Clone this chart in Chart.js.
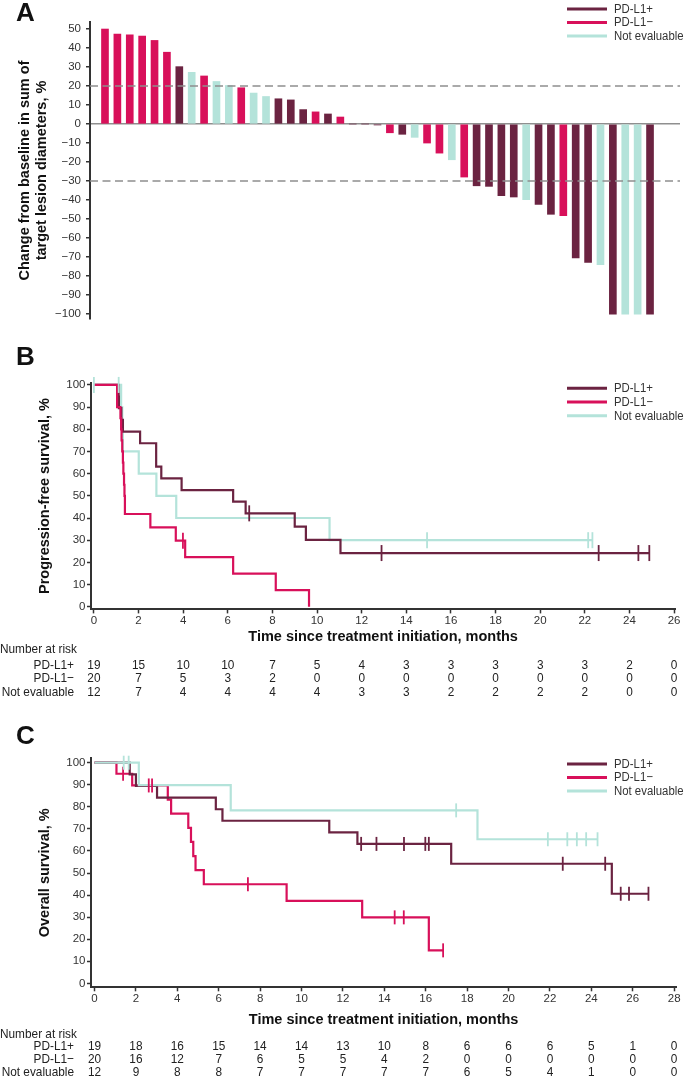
<!DOCTYPE html>
<html>
<head>
<meta charset="utf-8">
<title>Tumour response and survival by PD-L1 status</title>
<script src="https://cdn.jsdelivr.net/npm/chart.js@4.4.1/dist/chart.umd.min.js"></script>
<style>
  html, body { margin:0; padding:0; background:#ffffff; }
  body { width:685px; height:1077px; position:relative; overflow:hidden; }
  canvas { position:absolute; left:0; display:block; }
</style>
</head>
<body>
<canvas id="panelA" width="685" height="330" style="top:0px"></canvas>
<canvas id="panelB" width="685" height="370" style="top:335px"></canvas>
<canvas id="panelC" width="685" height="372" style="top:705px"></canvas>
<script>
// ================= DATA =================
const groupKeys   = ['pos', 'neg', 'ne'];
const groupLabels = ['PD-L1+', 'PD-L1\u2212', 'Not evaluable'];
const groupColors = ['#6b2341', '#d8105a', '#b4e3da'];

// Panel A: best change from baseline (%) per patient, ordered as plotted
const waterfallChange = [50, 47.3, 47, 46.3, 44, 37.8, 30.2, 27.2, 25.3, 22.4,
  20.3, 19.1, 16.3, 14.5, 13.3, 12.7, 7.6, 6.4, 5.3, 3.7,
  0, 0, -0.5, -4.6, -5.4, -7, -10, -15.3, -18.8, -27.9,
  -32.5, -32.8, -37.7, -38.4, -39.8, -42.3, -47.5, -48.2, -70.4, -72.8,
  -74, -100, -100, -100, -100];
const waterfallGroup = ['neg','neg','neg','neg','neg','neg','pos','ne','neg','ne',
  'ne','neg','ne','ne','pos','pos','pos','neg','pos','neg',
  'pos','pos','pos','neg','pos','ne','neg','neg','ne','neg',
  'pos','pos','pos','pos','ne','pos','pos','neg','pos','pos',
  'ne','pos','ne','ne','pos'];
const waterfallThresholds = [20, -30];
const waterfallTicks = [50, 40, 30, 20, 10, 0, -10, -20, -30, -40, -50, -60, -70, -80, -90, -100];

// Panel B: progression-free survival (months, %)
const pfsMonthTicks = [0, 2, 4, 6, 8, 10, 12, 14, 16, 18, 20, 22, 24, 26];
const pfsTimePos   = [0, 1.11, 1.12, 1.23, 1.30, 2.07, 2.79, 3.02, 3.93, 6.24, 6.80, 9.00, 9.50, 11.05, 24.89];
const pfsSurvPos   = [100, 94.7, 89.5, 84.2, 78.9, 73.7, 63.2, 57.9, 52.6, 47.4, 42.1, 36.1, 30.1, 24.2, 24.2];
const pfsCensorPos = [6.96, 12.89, 22.62, 24.40, 24.89];
const pfsTimeNeg   = [0, 1.04, 1.19, 1.22, 1.24, 1.27, 1.30, 1.32, 1.35, 1.37, 1.39, 2.53, 3.67, 4.09, 6.24, 8.15, 9.64];
const pfsSurvNeg   = [100, 90, 85, 80, 75, 70, 65, 60, 55, 50, 41.8, 35.8, 29.8, 22.4, 14.9, 7.5, 0];
const pfsCensorNeg = [3.99];
const pfsTimeNE    = [0, 1.22, 1.27, 1.30, 2.01, 2.80, 3.69, 10.56, 22.34];
const pfsSurvNE    = [100, 90, 80, 70, 60, 50, 40, 30, 30];
const pfsCensorNE  = [0, 1.11, 14.93, 22.15, 22.34];
const pfsRiskPos = [19, 15, 10, 10, 7, 5, 4, 3, 3, 3, 3, 3, 2, 0];
const pfsRiskNeg = [20, 7, 5, 3, 2, 0, 0, 0, 0, 0, 0, 0, 0, 0];
const pfsRiskNE  = [12, 7, 4, 4, 4, 4, 3, 3, 2, 2, 2, 2, 0, 0];

// Panel C: overall survival (months, %)
const osMonthTicks = [0, 2, 4, 6, 8, 10, 12, 14, 16, 18, 20, 22, 24, 26, 28];
const osTimePos   = [0, 1.70, 2.00, 3.02, 5.86, 6.18, 11.34, 12.70, 17.23, 24.99, 26.76];
const osSurvPos   = [100, 94.7, 89.5, 84.2, 78.9, 73.7, 68.4, 63.2, 54.2, 40.6, 40.6];
const osCensorPos = [12.88, 13.62, 14.95, 15.98, 16.15, 22.62, 24.67, 25.42, 25.82, 26.76];
const osTimeNeg   = [0, 1.06, 1.82, 3.54, 3.70, 4.53, 4.66, 4.77, 4.88, 5.28, 9.28, 12.93, 16.15, 16.84];
const osSurvNeg   = [100, 95, 89.7, 83.3, 76.9, 70.5, 64.1, 57.7, 51.3, 44.9, 37.4, 29.9, 14.95, 14.95];
const osCensorNeg = [1.38, 2.62, 2.78, 7.41, 14.50, 14.94, 16.84];
const osTimeNE    = [0, 2.14, 6.58, 18.50, 24.30];
const osSurvNE    = [100, 89.8, 78.4, 65.3, 65.3];
const osCensorNE  = [1.41, 1.65, 17.47, 21.90, 22.84, 23.30, 23.75, 24.30];
const osRiskPos = [19, 18, 16, 15, 14, 14, 13, 10, 8, 6, 6, 6, 5, 1, 0];
const osRiskNeg = [20, 16, 12, 7, 6, 5, 5, 4, 2, 0, 0, 0, 0, 0, 0];
const osRiskNE  = [12, 9, 8, 8, 7, 7, 7, 7, 7, 6, 5, 4, 1, 0, 0];

// ================= STYLE =================
const SANS   = '"Liberation Sans", Arial, Helvetica, sans-serif';
const NARROW = '"Liberation Sans Narrow", "Liberation Sans", Arial, sans-serif';
const AXIS_COLOR = '#333333';
const REF_COLOR  = '#8f8f8f';
const colorOf = g => groupColors[groupKeys.indexOf(g)];

// condensed text: use a narrow face if installed, otherwise compress horizontally
const measureCtx = document.createElement('canvas').getContext('2d');
function textWidth(font, s) { measureCtx.font = font; return measureCtx.measureText(s).width; }
const NARROW_OK = textWidth('13px ' + NARROW, 'Not evaluable') < 0.9 * textWidth('13px ' + SANS, 'Not evaluable');
const NARROW_SCALE = NARROW_OK ? 1 : 0.91;
function narrowText(ctx, s, x, y, align, size) {
  ctx.save();
  ctx.font = size + 'px ' + NARROW;
  ctx.textAlign = align;
  ctx.textBaseline = 'middle';
  ctx.translate(x, y);
  ctx.scale(NARROW_SCALE, 1);
  ctx.fillText(s, 0, 0);
  ctx.restore();
}

function survivalAt(times, surv, t) {
  let s = surv[0];
  for (let k = 0; k < times.length; k++) { if (times[k] <= t) s = surv[k]; }
  return s;
}

function makeDecor(cfg) {
  return {
    id: 'decor_' + cfg.letter,
    afterDraw(chart) {
      const ctx = chart.ctx;
      ctx.save();
      // panel letter
      ctx.fillStyle = '#111';
      ctx.font = 'bold 26px ' + SANS;
      ctx.textAlign = 'left';
      ctx.textBaseline = 'alphabetic';
      ctx.fillText(cfg.letter, cfg.letterX, cfg.letterY);
      // legend
      groupLabels.forEach((lab, i) => {
        const y = cfg.legendY + i * cfg.legendStep;
        ctx.strokeStyle = groupColors[i];
        ctx.lineWidth = 3;
        ctx.beginPath();
        ctx.moveTo(cfg.legendX, y);
        ctx.lineTo(cfg.legendX + 40, y);
        ctx.stroke();
        ctx.fillStyle = '#333';
        narrowText(ctx, lab, cfg.legendX + 47, y + 0.5, 'left', 12.5);
      });
      // number at risk table
      if (cfg.nar) {
        const xs = chart.scales.x;
        ctx.fillStyle = '#222';
        narrowText(ctx, 'Number at risk', 0, cfg.nar.titleY, 'left', 13);
        cfg.nar.rows.forEach((row, r) => {
          const y = cfg.nar.firstRowY + r * cfg.nar.rowStep;
          narrowText(ctx, groupLabels[r], 74, y, 'right', 13);
          row.forEach((n, k) => narrowText(ctx, String(n), xs.getPixelForValue(cfg.nar.months[k]), y, 'center', 13));
        });
      }
      ctx.restore();
    }
  };
}

// ================= PANEL A =================
const A_X_MIN = -0.21, A_X_MAX = 47.42;
new Chart(document.getElementById('panelA'), {
  type: 'bar',
  data: {
    datasets: [
      ...waterfallThresholds.map(v => ({
        type: 'line',
        data: [{x: A_X_MIN, y: v}, {x: A_X_MAX, y: v}],
        borderColor: REF_COLOR, borderWidth: 1.5, borderDash: [8, 4.5],
        pointRadius: 0, fill: false, order: 0
      })),
      {
        type: 'bar',
        data: waterfallChange.map((v, i) => ({x: i + 1, y: v})),
        backgroundColor: waterfallGroup.map(colorOf),
        borderWidth: 0, barThickness: 7, order: 1
      }
    ]
  },
  options: {
    responsive: false, animation: false, events: [],
    layout: {padding: {top: 22, bottom: 11, left: 0, right: 5}},
    plugins: {legend: {display: false}, tooltip: {enabled: false}},
    scales: {
      x: {type: 'linear', offset: false, min: A_X_MIN, max: A_X_MAX, display: false},
      y: {
        type: 'linear', min: -102.6, max: 53.7,
        afterBuildTicks: s => { s.ticks = waterfallTicks.map(v => ({value: v})); },
        afterFit: s => { s.width = 90; s.paddingTop = 0; s.paddingBottom = 0; },
        ticks: {font: {family: SANS, size: 11.5}, color: AXIS_COLOR, padding: 5,
                callback: v => v < 0 ? '\u2212' + Math.abs(v) : String(v)},
        grid: {drawOnChartArea: true,
               color: c => (c.tick && c.tick.value === 0) ? REF_COLOR : 'rgba(0,0,0,0)',
               lineWidth: 1.5, tickColor: AXIS_COLOR, tickLength: 4, tickWidth: 1.5},
        border: {display: true, color: AXIS_COLOR, width: 2},
        title: {display: true, text: ['Change from baseline in sum of', 'target lesion diameters, %'],
                font: {family: SANS, size: 14.5, weight: 'bold', lineHeight: '17px'},
                color: '#111', padding: {top: 16.5, bottom: 0}}
      }
    }
  },
  plugins: [makeDecor({letter: 'A', letterX: 16, letterY: 21, legendX: 567, legendY: 9, legendStep: 13.5})]
});

// ================= PANELS B & C =================
function kmChart(id, spec) {
  const datasets = [];
  spec.curves.forEach((c) => {
    datasets.push({
      type: 'scatter',
      data: c.censor.map(t => ({x: t, y: survivalAt(c.time, c.surv, t)})),
      pointStyle: 'line', pointRotation: 90,
      pointRadius: spec.censorRadius, pointHoverRadius: spec.censorRadius,
      pointBorderWidth: 1.8, pointBorderColor: c.color, pointBackgroundColor: c.color,
      showLine: false, clip: false, order: c.layer
    });
    datasets.push({
      type: 'line',
      data: c.time.map((t, k) => ({x: t, y: c.surv[k]})),
      stepped: true, borderColor: c.color, borderWidth: 2.2, pointRadius: 0,
      fill: false, clip: false, order: 10 + c.layer
    });
  });
  return new Chart(document.getElementById(id), {
    type: 'line',
    data: {datasets},
    options: {
      responsive: false, animation: false, events: [],
      layout: {padding: spec.padding},
      plugins: {legend: {display: false}, tooltip: {enabled: false}},
      scales: {
        x: {
          type: 'linear', offset: false, min: spec.xMin, max: spec.xMax,
          afterBuildTicks: s => { s.ticks = spec.months.map(v => ({value: v})); },
          afterFit: s => { s.height = spec.xAxisHeight; s.paddingLeft = 0; s.paddingRight = 0; },
          ticks: {font: {family: SANS, size: 11.5}, color: AXIS_COLOR, padding: 1, maxRotation: 0, autoSkip: false},
          grid: {drawOnChartArea: false, drawTicks: true, tickLength: 4, tickColor: AXIS_COLOR, tickWidth: 1.5},
          border: {display: true, color: AXIS_COLOR, width: 2},
          title: {display: true, text: 'Time since treatment initiation, months',
                  font: {family: SANS, size: 14.5, weight: 'bold', lineHeight: '17px'},
                  color: '#111', padding: {top: 0, bottom: 0}}
        },
        y: {
          type: 'linear', min: spec.yMin, max: spec.yMax,
          afterBuildTicks: s => { s.ticks = [0, 10, 20, 30, 40, 50, 60, 70, 80, 90, 100].map(v => ({value: v})); },
          afterFit: s => { s.width = 91; s.paddingTop = 0; s.paddingBottom = 0; },
          ticks: {font: {family: SANS, size: 11.5}, color: AXIS_COLOR, padding: 1.5},
          grid: {drawOnChartArea: false, drawTicks: true, tickLength: 4, tickColor: AXIS_COLOR, tickWidth: 1.5},
          border: {display: true, color: AXIS_COLOR, width: 2},
          title: {display: true, text: spec.yTitle,
                  font: {family: SANS, size: 14.5, weight: 'bold', lineHeight: '17px'},
                  color: '#111', padding: {top: 36.5, bottom: 0}}
        }
      }
    },
    plugins: [makeDecor(spec.decor)]
  });
}

kmChart('panelB', {
  xMin: -0.13, xMax: 26.05, yMin: -1.2, yMax: 101,
  months: pfsMonthTicks,
  padding: {top: 47.7, bottom: 59.5, left: 0, right: 5},
  xAxisHeight: 36.1,
  censorRadius: 8,
  yTitle: 'Progression-free survival, %',
  curves: [
    {time: pfsTimePos, surv: pfsSurvPos, censor: pfsCensorPos, color: groupColors[0], layer: 1},
    {time: pfsTimeNeg, surv: pfsSurvNeg, censor: pfsCensorNeg, color: groupColors[1], layer: 0},
    {time: pfsTimeNE,  surv: pfsSurvNE,  censor: pfsCensorNE,  color: groupColors[2], layer: 2}
  ],
  decor: {letter: 'B', letterX: 16, letterY: 30, legendX: 567, legendY: 53.3, legendStep: 13.7,
          nar: {months: pfsMonthTicks, rows: [pfsRiskPos, pfsRiskNeg, pfsRiskNE],
                titleY: 314, firstRowY: 330, rowStep: 13.5}}
});

kmChart('panelC', {
  xMin: -0.17, xMax: 28.1, yMin: -1.8, yMax: 102,
  months: osMonthTicks,
  padding: {top: 53.3, bottom: 49, left: 0, right: 5},
  xAxisHeight: 40.7,
  censorRadius: 7,
  yTitle: 'Overall survival, %',
  curves: [
    {time: osTimePos, surv: osSurvPos, censor: osCensorPos, color: groupColors[0], layer: 1},
    {time: osTimeNeg, surv: osSurvNeg, censor: osCensorNeg, color: groupColors[1], layer: 2},
    {time: osTimeNE,  surv: osSurvNE,  censor: osCensorNE,  color: groupColors[2], layer: 0}
  ],
  decor: {letter: 'C', letterX: 16, letterY: 39, legendX: 567, legendY: 59, legendStep: 13.5,
          nar: {months: osMonthTicks, rows: [osRiskPos, osRiskNeg, osRiskNE],
                titleY: 329, firstRowY: 341.5, rowStep: 13}}
});
</script>
</body>
</html>
